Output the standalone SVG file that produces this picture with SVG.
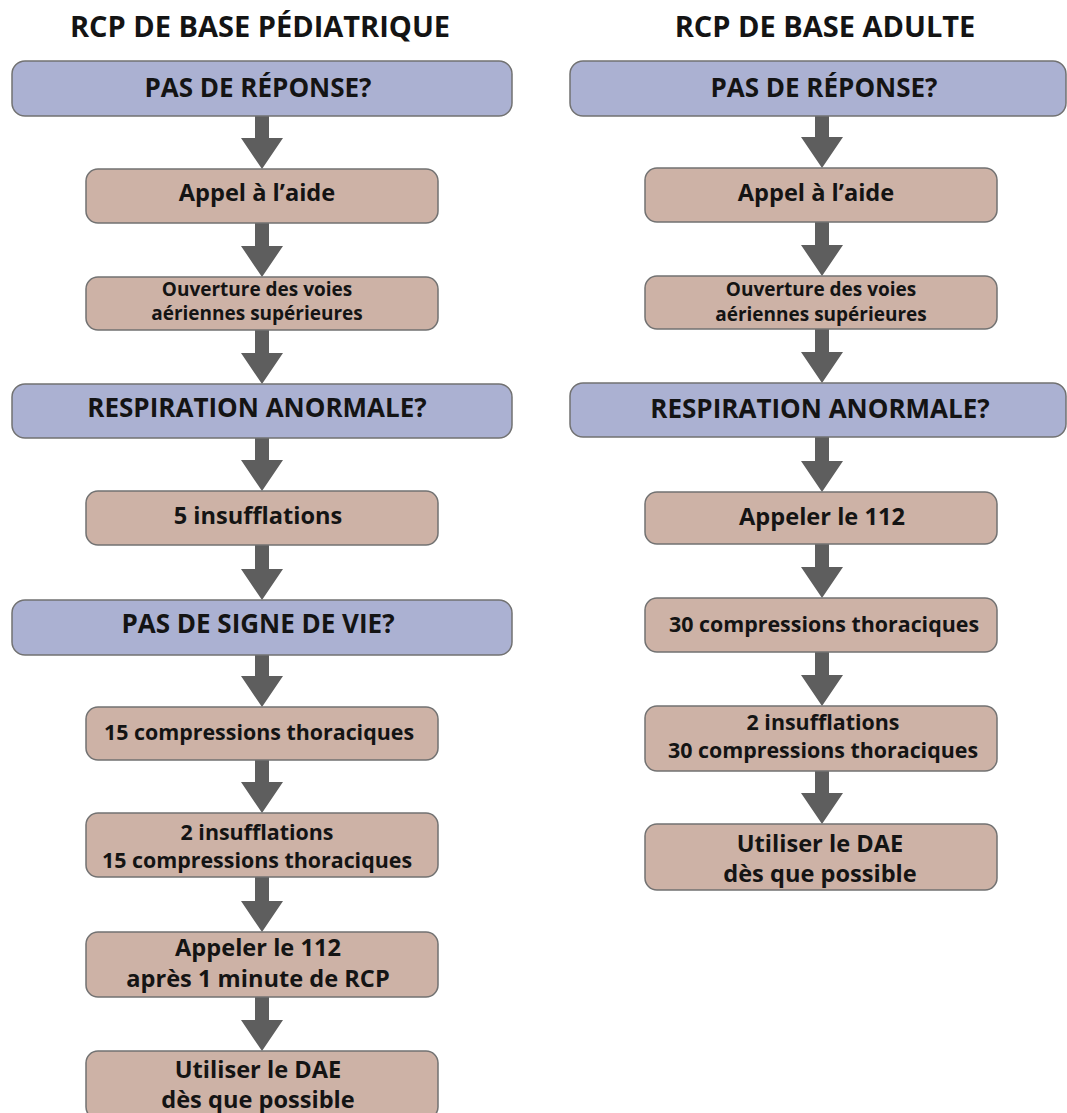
<svg xmlns="http://www.w3.org/2000/svg" width="1067" height="1113" viewBox="0 0 1067 1113">
<style>
text{font-family:"Open Sans","Liberation Sans",sans-serif;font-weight:700;fill:#141414;text-anchor:middle}
.title{font-size:29px}
.q{font-size:26px}
.a{font-size:23.6px}
.s{font-size:19px}
.m{font-size:21.4px}
.blue{fill:#abb1d2;stroke:#727272;stroke-width:1.5}
.brown{fill:#cdb2a6;stroke:#727272;stroke-width:1.5}
.arr{fill:#5e5e5e}
</style>
<rect width="1067" height="1113" fill="#ffffff"/>
<text class="title" x="260" y="37">RCP DE BASE PÉDIATRIQUE</text>
<text class="title" x="825" y="37">RCP DE BASE ADULTE</text>
<g id="connectors">
<polygon class="arr" points="255,116 269,116 269,138 283,138 262,169 241,138 255,138"/>
<polygon class="arr" points="255,223 269,223 269,246 283,246 262,277 241,246 255,246"/>
<polygon class="arr" points="255,330 269,330 269,353 283,353 262,384 241,353 255,353"/>
<polygon class="arr" points="255,438 269,438 269,460 283,460 262,491 241,460 255,460"/>
<polygon class="arr" points="255,545 269,545 269,569 283,569 262,600 241,569 255,569"/>
<polygon class="arr" points="255,655 269,655 269,676 283,676 262,707 241,676 255,676"/>
<polygon class="arr" points="255,760 269,760 269,782 283,782 262,813 241,782 255,782"/>
<polygon class="arr" points="255,877 269,877 269,901 283,901 262,932 241,901 255,901"/>
<polygon class="arr" points="255,997 269,997 269,1020 283,1020 262,1051 241,1020 255,1020"/>
<polygon class="arr" points="815,116 829,116 829,137 843,137 822,168 801,137 815,137"/>
<polygon class="arr" points="815,222 829,222 829,245 843,245 822,276 801,245 815,245"/>
<polygon class="arr" points="815,329 829,329 829,352 843,352 822,383 801,352 815,352"/>
<polygon class="arr" points="815,437 829,437 829,461 843,461 822,492 801,461 815,461"/>
<polygon class="arr" points="815,544 829,544 829,567 843,567 822,598 801,567 815,567"/>
<polygon class="arr" points="815,652 829,652 829,675 843,675 822,706 801,675 815,675"/>
<polygon class="arr" points="815,771 829,771 829,793 843,793 822,824 801,793 815,793"/>
</g>
<g id="p1"><rect class="blue" x="12" y="61" width="500" height="55" rx="13"/><text class="q" x="258" y="97">PAS DE RÉPONSE?</text></g>
<g id="p2"><rect class="brown" x="86" y="169" width="352" height="54" rx="12"/><text class="a" x="257" y="201">Appel à l’aide</text></g>
<g id="p3"><rect class="brown" x="86" y="277" width="352" height="53" rx="12"/><text class="s" x="257" y="296">Ouverture des voies</text><text class="s" x="257" y="320">aériennes supérieures</text></g>
<g id="p4"><rect class="blue" x="12" y="384" width="500" height="54" rx="13"/><text class="q" x="257" y="417">RESPIRATION ANORMALE?</text></g>
<g id="p5"><rect class="brown" x="86" y="491" width="352" height="54" rx="12"/><text class="a" x="258" y="524">5 insufflations</text></g>
<g id="p6"><rect class="blue" x="12" y="600" width="500" height="55" rx="13"/><text class="q" x="258" y="633">PAS DE SIGNE DE VIE?</text></g>
<g id="p7"><rect class="brown" x="86" y="707" width="352" height="53" rx="12"/><text class="m" x="259" y="740">15 compressions thoraciques</text></g>
<g id="p8"><rect class="brown" x="86" y="813" width="352" height="64" rx="12"/><text class="m" x="257" y="840">2 insufflations</text><text class="m" x="257" y="868">15 compressions thoraciques</text></g>
<g id="p9"><rect class="brown" x="86" y="932" width="352" height="65" rx="12"/><text class="a" x="258" y="956">Appeler le 112</text><text class="a" x="258" y="987">après 1 minute de RCP</text></g>
<g id="p10"><rect class="brown" x="86" y="1051" width="352" height="68" rx="12"/><text class="a" x="258" y="1078">Utiliser le DAE</text><text class="a" x="258" y="1108">dès que possible</text></g>
<g id="a1"><rect class="blue" x="570" y="61" width="496" height="55" rx="13"/><text class="q" x="824" y="97">PAS DE RÉPONSE?</text></g>
<g id="a2"><rect class="brown" x="645" y="168" width="352" height="54" rx="12"/><text class="a" x="816" y="201">Appel à l’aide</text></g>
<g id="a3"><rect class="brown" x="645" y="276" width="352" height="53" rx="12"/><text class="s" x="821" y="296">Ouverture des voies</text><text class="s" x="821" y="321">aériennes supérieures</text></g>
<g id="a4"><rect class="blue" x="570" y="383" width="496" height="54" rx="13"/><text class="q" x="820" y="418">RESPIRATION ANORMALE?</text></g>
<g id="a5"><rect class="brown" x="645" y="492" width="352" height="52" rx="12"/><text class="a" x="822" y="525">Appeler le 112</text></g>
<g id="a6"><rect class="brown" x="645" y="598" width="352" height="54" rx="12"/><text class="m" x="824" y="632">30 compressions thoraciques</text></g>
<g id="a7"><rect class="brown" x="645" y="706" width="352" height="65" rx="12"/><text class="m" x="823" y="730">2 insufflations</text><text class="m" x="823" y="758">30 compressions thoraciques</text></g>
<g id="a8"><rect class="brown" x="645" y="824" width="352" height="66" rx="12"/><text class="a" x="820" y="852">Utiliser le DAE</text><text class="a" x="820" y="882">dès que possible</text></g>
</svg>
